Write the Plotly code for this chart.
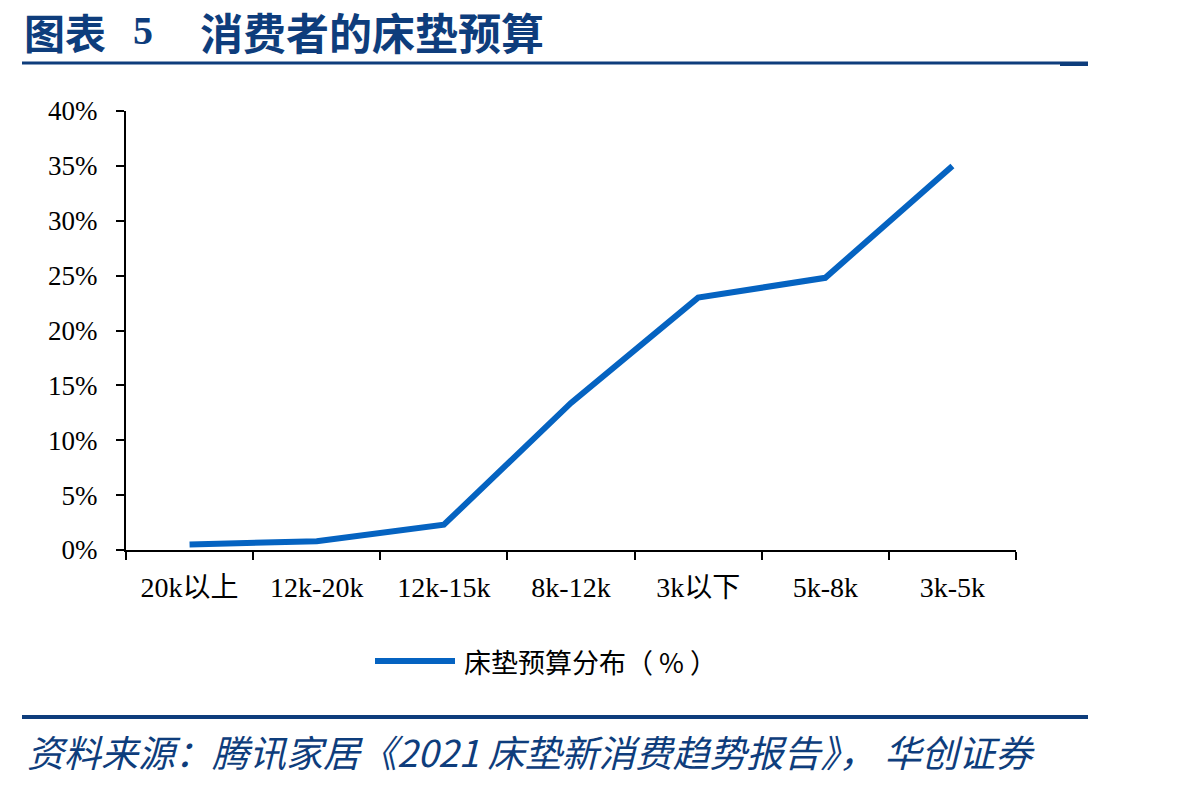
import plotly.graph_objects as go

categories = ["20k以上", "12k-20k", "12k-15k", "8k-12k", "3k以下", "5k-8k", "3k-5k"]
values = [0.5, 0.8, 2.3, 13.4, 23.0, 24.8, 35.0]
y_ticks = [0, 5, 10, 15, 20, 25, 30, 35, 40]
y_tick_labels = [f"{v}%" for v in y_ticks]
series_name = "床垫预算分布（%）"
legend_label = "床垫预算分布（ % ）"
title_prefix = "图表"
title_num = "5"
title_main = "消费者的床垫预算"
source_text = "资料来源：腾讯家居《2021 床垫新消费趋势报告》， 华创证券"

W, H = 1198, 785
L, R, T, B = 126, 1016, 111, 550
pw, ph = R - L, B - T


def px(x):
    return (x - L) / pw


def py(y):
    return (B - y) / ph


LINE_BLUE = "#0563C1"
DARK_BLUE = "#0E3D7C"
SERIF = "Liberation Serif, Times New Roman, Noto Sans CJK SC, serif"
CJK = "Noto Sans CJK SC, sans-serif"

fig = go.Figure()
fig.add_trace(go.Scatter(
    x=categories, y=values, mode="lines", name=series_name,
    line=dict(color=LINE_BLUE, width=6), showlegend=False,
))

fig.update_layout(
    width=W, height=H,
    margin=dict(l=L, r=W - R, t=T, b=H - B, pad=0),
    paper_bgcolor="white", plot_bgcolor="white",
    xaxis=dict(
        type="category", range=[-0.5, len(categories) - 0.5],
        tickson="boundaries", ticks="outside", ticklen=8, tickwidth=2,
        tickcolor="black", showline=True, linecolor="black", linewidth=2,
        showgrid=False, zeroline=False,
        tickfont=dict(family=SERIF, size=28, color="black"),
        ticklabelstandoff=11,
    ),
    yaxis=dict(
        range=[0, 40], tickvals=y_ticks, ticktext=y_tick_labels,
        ticks="outside", ticklen=8, tickwidth=2, tickcolor="black",
        showline=True, linecolor="black", linewidth=2,
        showgrid=False, zeroline=False,
        tickfont=dict(family=SERIF, size=27, color="black"),
        ticklabelstandoff=13,
    ),
)

shapes = [
    dict(type="line", xref="paper", yref="paper", x0=px(22), x1=px(1088), y0=py(63), y1=py(63),
         line=dict(color=DARK_BLUE, width=3)),
    dict(type="line", xref="paper", yref="paper", x0=px(1060), x1=px(1088), y0=py(65), y1=py(65),
         line=dict(color=DARK_BLUE, width=2)),
    dict(type="line", xref="paper", yref="paper", x0=px(22), x1=px(1088), y0=py(717), y1=py(717),
         line=dict(color=DARK_BLUE, width=4)),
    dict(type="line", xref="paper", yref="paper", x0=px(375), x1=px(455), y0=py(661), y1=py(661),
         line=dict(color=LINE_BLUE, width=6)),
]
fig.update_layout(shapes=shapes)

annotations = [
    dict(text=f"<b>{title_prefix}</b>", x=px(22), y=py(31), xref="paper", yref="paper",
         xanchor="left", yanchor="middle", showarrow=False,
         font=dict(family=CJK, size=41, color=DARK_BLUE)),
    dict(text=f"<b>{title_num}</b>", x=px(131), y=py(31), xref="paper", yref="paper",
         xanchor="left", yanchor="middle", showarrow=False,
         font=dict(family=SERIF, size=40, color=DARK_BLUE)),
    dict(text=f"<b>{title_main}</b>", x=px(198), y=py(31), xref="paper", yref="paper",
         xanchor="left", yanchor="middle", showarrow=False,
         font=dict(family=CJK, size=43, color=DARK_BLUE)),
    dict(text=legend_label, x=px(462), y=py(661), xref="paper", yref="paper",
         xanchor="left", yanchor="middle", showarrow=False,
         font=dict(family=CJK, size=27, color="black")),
    dict(text=f"<i>{source_text}</i>", x=px(25), y=py(751), xref="paper", yref="paper",
         xanchor="left", yanchor="middle", showarrow=False,
         font=dict(family=CJK, size=37, color=DARK_BLUE)),
]
fig.update_layout(annotations=annotations)

fig.write_html("out.html")
